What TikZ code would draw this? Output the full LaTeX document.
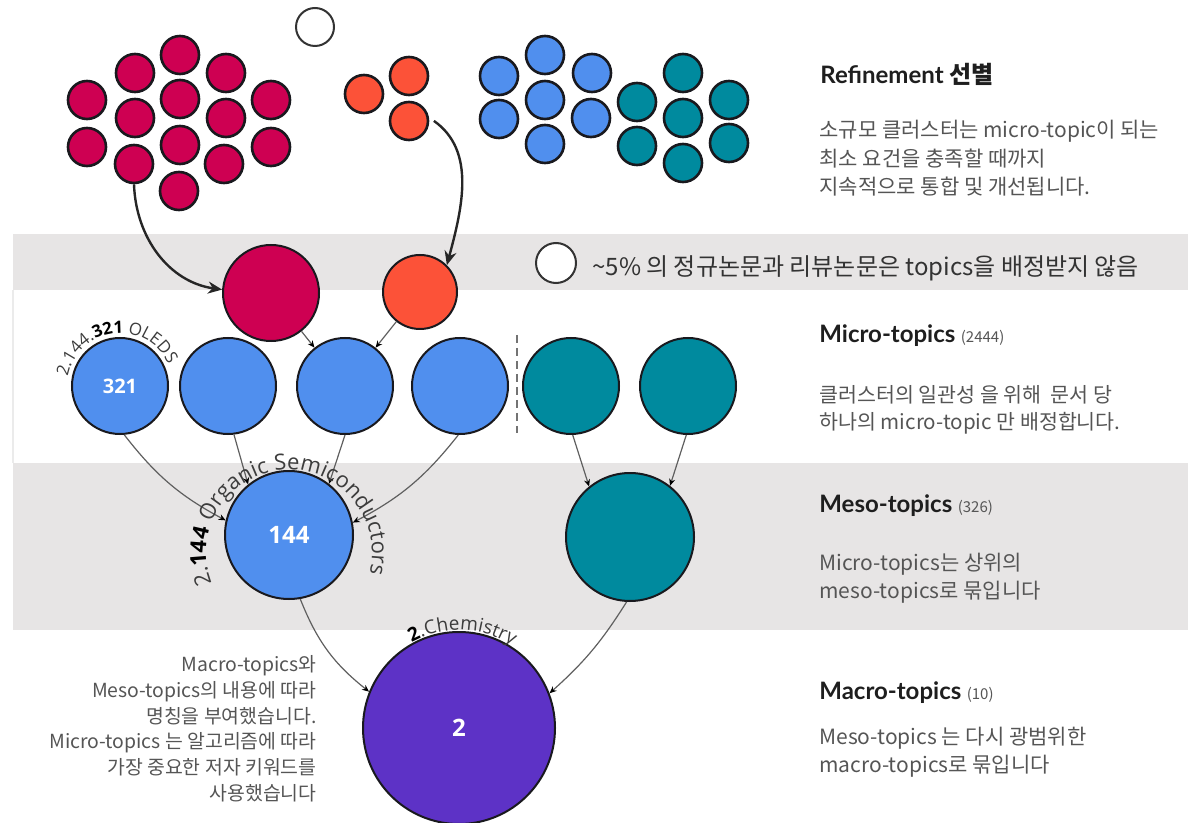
\documentclass[tikz,border=0pt]{standalone}
\usepackage{fontspec}
\setmainfont{Noto Sans CJK KR}
\newfontfamily\lato{Lato}
\newfontfamily\osans{Open Sans}
\usetikzlibrary{arrows.meta,decorations.text}
\definecolor{cmag}{RGB}{206,0,82}
\definecolor{corg}{RGB}{252,82,56}
\definecolor{cblue}{RGB}{80,143,238}
\definecolor{cteal}{RGB}{0,138,158}
\definecolor{cpur}{RGB}{93,50,198}
\definecolor{band}{RGB}{231,229,229}
\definecolor{edge}{RGB}{25,25,30}
\definecolor{desc}{RGB}{85,85,85}
\definecolor{ttl}{RGB}{30,30,30}
\definecolor{lbl}{RGB}{60,60,60}
\definecolor{conncol}{RGB}{95,95,95}
\tikzset{
  dot/.style={circle, draw=edge, line width=1.3pt, minimum size=19pt, inner sep=0pt},
  magdot/.style={dot, fill=cmag},
  orgdot/.style={dot, fill=corg},
  bludot/.style={dot, fill=cblue},
  tealdot/.style={dot, fill=cteal},
  emptydot/.style={dot, fill=white, draw=black!80, line width=1pt},
  bigc/.style={circle, draw=edge, line width=1pt, inner sep=0pt, text=white},
  conn/.style={draw=conncol, line width=0.6pt, -{Stealth[length=3.5pt,width=3pt,color=black]}},
  carrow/.style={draw=black!85, line width=1.2pt, -{Stealth[length=7pt,width=6pt]}},
  ttlnode/.style={anchor=base west, inner sep=0pt, text=ttl, font=\fontsize{12}{14}\selectfont\bfseries},
  descnode/.style={anchor=north west, inner sep=0pt, text=desc, align=left}
}
\newcommand{\cnt}[1]{{\fontsize{7.5}{8}\selectfont\mdseries\color{desc}#1}}
\begin{document}
\begin{tikzpicture}[x=0.5pt,y=0.5pt]
\useasboundingbox (0,0) rectangle (1188,-823);
% bands
\fill[band] (13,-234) rectangle (1188,-290);
\fill[band] (13,-463) rectangle (1188,-630);
\draw[black!8, line width=0.8pt] (13,-290) -- (13,-463);

% top clusters
\node[emptydot] (e0) at (315,-27) {};
\foreach \n/\x/\y in {1/180/55,2/135/73,3/226/73,4/87/100,5/180/99,6/271/100,7/135/118,8/226/118,9/87/147,10/180/145,11/271/147,12/134/164,13/224/164,14/179/191}
  \node[magdot] (m\n) at (\x,-\y) {};
\node[orgdot] (o1) at (364,-94) {};
\node[orgdot] (o2) at (409,-76) {};
\node[orgdot] (o3) at (409,-121) {};
\foreach \n/\x/\y in {1/545/55,2/499/76,3/592/73,4/545/100,5/499/119,6/591/118,7/545/144}
  \node[bludot] (b\n) at (\x,-\y) {};
\foreach \n/\x/\y in {1/683/73,2/637/102,3/729/100,4/683/118,5/637/146,6/729/143,7/683/163}
  \node[tealdot] (t\n) at (\x,-\y) {};

% refined clusters
\node[bigc, fill=cmag, minimum size=48pt] (bigM) at (271,-293) {};
\node[bigc, fill=corg, minimum size=37pt] (bigO) at (420,-292) {};
\node[emptydot, minimum size=20pt] (bc) at (556,-263) {};
\node[anchor=base west, inner sep=0pt, text=black!80, font=\fontsize{12}{14}\selectfont] (bandtxt) at (592,-276) {\textasciitilde5\% 의 정규논문과 리뷰논문은 topics을 배정받지 않음};

\draw[carrow] (m12.south) to[out=-88,in=172] (bigM.176);
\draw[carrow, shorten <=3pt] (o3.10) to[out=-35,in=75] (bigO.45);

% micro topics
\node[bigc, fill=cblue, minimum size=48pt, font=\osans\bfseries\fontsize{10}{12}\selectfont] (mi1) at (120,-386) {321};
\node[bigc, fill=cblue, minimum size=48pt] (mi2) at (228,-386) {};
\node[bigc, fill=cblue, minimum size=48pt] (mi3) at (345,-386) {};
\node[bigc, fill=cblue, minimum size=48pt] (mi4) at (460,-386) {};
\node[bigc, fill=cteal, minimum size=48pt] (tm1) at (571,-386) {};
\node[bigc, fill=cteal, minimum size=48pt] (tm2) at (688,-386) {};
\coordinate (dtop) at (517,-335);
\coordinate (dbot) at (517,-433);
\draw[black!55, line width=0.9pt, dash pattern=on 4pt off 2.5pt] (dtop) -- (dbot);

% meso
\node[bigc, fill=cblue, minimum size=64pt, font=\osans\bfseries\fontsize{12}{14}\selectfont] (me1) at (289,-535) {144};
\node[bigc, fill=cteal, minimum size=64pt] (tme) at (630,-537) {};

% macro
\node[bigc, fill=cpur, minimum size=96pt, font=\osans\bfseries\fontsize{12}{14}\selectfont] (mac) at (459,-728) {2};

% connectors
\draw[conn] (bigM) -- (mi3);
\draw[conn] (bigO) -- (mi3);
\draw[conn] (mi1.-85) to[bend right=12] (me1.167);
\draw[conn] (mi2.-83) -- (me1.129);
\draw[conn] (mi3.-90) -- (me1.52);
\draw[conn] (mi4.-92) to[bend left=12] (me1.11);
\draw[conn] (tm1.-88) -- (tme.129);
\draw[conn] (tm2.-92) -- (tme.52);
\draw[conn] (me1.-80) to[bend right=15] (mac.158);
\draw[conn] (tme.-93) to[bend left=8] (mac.21);

% curved labels
\path[decorate, decoration={text along path, text align=center,
  text={|\osans\fontsize{8.5}{10}\selectfont\color{lbl}|2.144.|\osans\bfseries\fontsize{8.5}{10}\selectfont\color{black}|321|\osans\mdseries\fontsize{8.5}{10}\selectfont\color{lbl}| OLEDS}}]
  ([shift={(190:53)}]mi1.center) arc[start angle=190, end angle=4, radius=53];
\coordinate (oc) at (289,-553);
\path[decorate, decoration={text along path, text align=center,
  text={|\osans\fontsize{11}{13}\selectfont\color{lbl}|2.|\osans\bfseries\fontsize{11}{13}\selectfont\color{black}|144|\osans\mdseries\fontsize{11}{13}\selectfont\color{lbl}| Organic Semiconductors}}]
  ([shift={(245:83)}]oc) arc[start angle=245, end angle=-58, radius=83];
\path[decorate, decoration={text along path, text align=center,
  text={|\osans\bfseries\fontsize{9.5}{11}\selectfont\color{black}|2|\osans\mdseries\fontsize{9.5}{11}\selectfont\color{lbl}|.Chemistry}}]
  ([shift={(150:98)}]mac.center) arc[start angle=150, end angle=26, radius=98];

% right texts
\node[ttlnode] (r1) at (820,-84) {{\lato Refinement} 선별};
\node[descnode, font=\fontsize{10.5}{14.25}\selectfont] (r1d) at (819,-120) {소규모 클러스터는 micro-topic이 되는\\최소 요건을 충족할 때까지\\지속적으로 통합 및 개선됩니다.};
\node[ttlnode] (r2) at (819,-343) {{\lato Micro-topics} \cnt{(2444)}};
\node[descnode, font=\fontsize{10.3}{13.75}\selectfont] (r2d) at (819,-385) {클러스터의 일관성 을 위해 \ 문서 당\\하나의 micro-topic 만 배정합니다.};
\node[ttlnode] (r3) at (819,-512) {{\lato Meso-topics} \cnt{(326)}};
\node[descnode, font=\fontsize{10.5}{14}\selectfont] (r3d) at (819,-553) {Micro-topics는 상위의\\meso-topics로 묶입니다};
\node[ttlnode] (r4) at (819,-699) {{\lato Macro-topics} \cnt{(10)}};
\node[descnode, font=\fontsize{10.5}{14}\selectfont] (r4d) at (819,-727) {Meso-topics 는 다시 광범위한\\macro-topics로 묶입니다};

% left text
\node[anchor=north east, inner sep=0pt, align=right, text=desc, font=\fontsize{9.7}{12.9}\selectfont] (lt) at (317,-655) {Macro-topics와\\Meso-topics의 내용에 따라\\명칭을 부여했습니다.\\Micro-topics 는 알고리즘에 따라\\가장 중요한 저자 키워드를\\사용했습니다};
\end{tikzpicture}
\end{document}
